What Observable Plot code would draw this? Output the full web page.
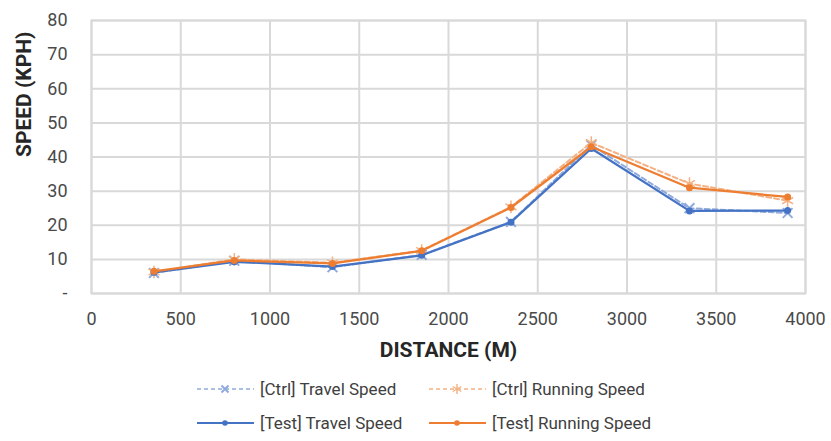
<!DOCTYPE html>
<html>
<head>
<meta charset="utf-8">
<script src="https://cdn.jsdelivr.net/npm/d3@7"></script>
<script src="https://cdn.jsdelivr.net/npm/@observablehq/plot@0.6"></script>
<style>
  body { margin: 0; background: #fff; font-family: Roboto, "Noto Sans", sans-serif; }
  #wrap { width: 831px; position: relative; }
  #legend { position: relative; height: 76px; font-size: 17px; color: #404040; }
  .item { position: absolute; display: flex; align-items: center; height: 24px; }
  .item svg { margin-right: 6px; }
</style>
</head>
<body>
<div id="wrap">
  <div id="chart"></div>
  <div id="legend"></div>
</div>
<script>
const distance = [350, 800, 1350, 1850, 2350, 2800, 3350, 3900];
const ctrlTravel  = [6.0, 9.6, 7.7, 11.3, 21.0, 43.5, 25.0, 23.6];
const ctrlRunning = [6.3, 10.0, 9.0, 12.6, 25.4, 44.2, 32.2, 27.2];
const testTravel  = [6.2, 9.3, 7.9, 11.2, 20.9, 42.5, 24.2, 24.3];
const testRunning = [6.5, 9.7, 8.8, 12.5, 25.2, 43.0, 31.0, 28.3];
const seriesNames = ["[Ctrl] Travel Speed", "[Ctrl] Running Speed", "[Test] Travel Speed", "[Test] Running Speed"];
const xTicks = [0, 500, 1000, 1500, 2000, 2500, 3000, 3500, 4000];
const yTicks = [0, 10, 20, 30, 40, 50, 60, 70, 80];
const xTitle = "DISTANCE (M)";
const yTitle = "SPEED (KPH)";

const C = {
  ctrlTravel: "#8faadc", ctrlRunning: "#f4b183",
  testTravel: "#4472c4", testRunning: "#ed7d31"
};

const rows = (vals) => distance.map((d, i) => ({x: d, y: vals[i]}));
const dCT = rows(ctrlTravel), dCR = rows(ctrlRunning), dTT = rows(testTravel), dTR = rows(testRunning);

const grid = "#d9d9d9";
const plot = Plot.plot({
  width: 831,
  height: 365,
  marginLeft: 91,
  marginRight: 26,
  marginTop: 20,
  marginBottom: 72,
  style: { fontFamily: "Roboto, sans-serif", fontSize: "18px", color: "#4a4a4a", background: "#fff" },
  x: { domain: [0, 4000], ticks: xTicks, label: null, tickSize: 0, tickPadding: 19, tickFormat: d => String(d) },
  y: { domain: [0, 80], ticks: yTicks, label: null, tickSize: 0, tickPadding: 24,
       tickFormat: d => d === 0 ? "-" : String(d) },
  marks: [
    Plot.gridX(xTicks, { stroke: grid, strokeOpacity: 1, strokeWidth: 2 }),
    Plot.gridY(yTicks, { stroke: grid, strokeOpacity: 1, strokeWidth: 2 }),
    Plot.frame({ stroke: grid, strokeWidth: 2 }),
    Plot.line(dCT, { x: "x", y: "y", stroke: C.ctrlTravel, strokeWidth: 2, strokeDasharray: "5,3" }),
    Plot.dot(dCT, { x: "x", y: "y", symbol: "times", r: 4.5, stroke: C.ctrlTravel, strokeWidth: 2 }),
    Plot.line(dCR, { x: "x", y: "y", stroke: C.ctrlRunning, strokeWidth: 2, strokeDasharray: "5,3" }),
    Plot.dot(dCR, { x: "x", y: "y", symbol: "asterisk", r: 6, stroke: C.ctrlRunning, strokeWidth: 1.5 }),
    Plot.line(dTT, { x: "x", y: "y", stroke: C.testTravel, strokeWidth: 2.25 }),
    Plot.dot(dTT, { x: "x", y: "y", r: 3.5, fill: C.testTravel }),
    Plot.line(dTR, { x: "x", y: "y", stroke: C.testRunning, strokeWidth: 2.25 }),
    Plot.dot(dTR, { x: "x", y: "y", r: 3.5, fill: C.testRunning }),
    Plot.text([yTitle], { frameAnchor: "left", dx: -67, rotate: -90, text: d => d,
      fontWeight: "bold", fontSize: 21, fill: "#262626" }),
    Plot.text([xTitle], { frameAnchor: "bottom", dy: 63, text: d => d,
      fontWeight: "bold", fontSize: 21, fill: "#262626" })
  ]
});
document.getElementById("chart").appendChild(plot);

// Legend
const legend = document.getElementById("legend");
const items = [
  { name: seriesNames[0], color: C.ctrlTravel, dash: "4,3", marker: "times", left: 197, top: 12 },
  { name: seriesNames[1], color: C.ctrlRunning, dash: "4,3", marker: "asterisk", left: 429, top: 12 },
  { name: seriesNames[2], color: C.testTravel, dash: null, marker: "dot", left: 197, top: 46 },
  { name: seriesNames[3], color: C.testRunning, dash: null, marker: "dot", left: 429, top: 46 }
];
for (const it of items) {
  const div = document.createElement("div");
  div.className = "item";
  div.style.left = it.left + "px";
  div.style.top = it.top + "px";
  let mk = "";
  if (it.marker === "dot") mk = `<circle cx="28" cy="12" r="2.8" fill="${it.color}"/>`;
  else if (it.marker === "times") mk = `<path d="M24.5,8.5L31.5,15.5M31.5,8.5L24.5,15.5" stroke="${it.color}" stroke-width="2"/>`;
  else mk = `<path d="M28,7V17M23.7,9.5L32.3,14.5M32.3,9.5L23.7,14.5" stroke="${it.color}" stroke-width="1.4"/>`;
  div.innerHTML = `<svg width="57" height="24"><line x1="0" y1="12" x2="57" y2="12" stroke="${it.color}" stroke-width="${it.dash ? 1.6 : 2.2}" ${it.dash ? `stroke-dasharray="${it.dash}"` : ""}/>${mk}</svg><span>${it.name}</span>`;
  legend.appendChild(div);
}
</script>
</body>
</html>
